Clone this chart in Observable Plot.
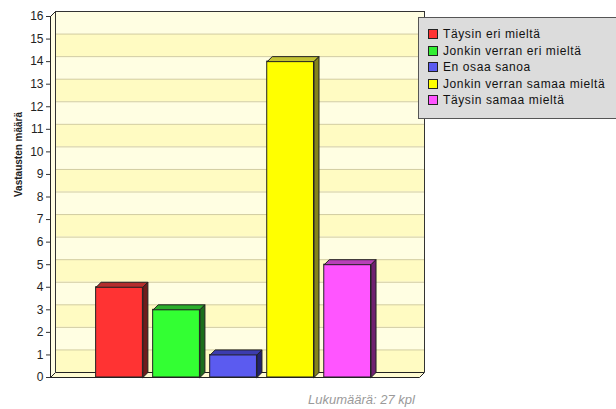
<!DOCTYPE html>
<html>
<head>
<meta charset="utf-8">
<script src="https://cdn.jsdelivr.net/npm/d3@7"></script>
<script src="https://cdn.jsdelivr.net/npm/@observablehq/plot@0.6"></script>
<style>
  html, body { margin: 0; padding: 0; background: #fff; }
  #wrap { position: relative; width: 616px; height: 409px; overflow: hidden; font-family: "Liberation Sans", Arial, sans-serif; }
  #legend { position: absolute; left: 418px; top: 17px; width: 210px; height: 102px; background: #dcdcdc; border-top: 1px solid #555; border-left: 1px solid #555; border-bottom: 1px solid #555; box-sizing: border-box; }
  .item { position: absolute; left: 9px; font-size: 12px; color: #111; line-height: 13px; white-space: nowrap; letter-spacing: 0.6px; }
  .sw { display: inline-block; width: 8px; height: 8px; border: 1px solid #222; margin-right: 5px; vertical-align: -1px; }
  #caption { position: absolute; left: 308px; top: 392px; font-size: 13px; font-style: italic; color: #9a9a9a; }
</style>
</head>
<body>
<div id="wrap">
  <div id="chart"></div>
  <div id="legend"></div>
  <div id="caption">Lukumäärä: 27 kpl</div>
</div>
<script>
const categories = ["Täysin eri mieltä", "Jonkin verran eri mieltä", "En osaa sanoa", "Jonkin verran samaa mieltä", "Täysin samaa mieltä"];
const values = [4, 3, 1, 14, 5];
const faceColors = ["#ff3333", "#33ff33", "#5b5bf0", "#ffff00", "#ff55ff"];
const topColors = ["#b42e2e", "#2aae2a", "#3c3cae", "#c2c232", "#b840b8"];
const sideColors = ["#6e1c1c", "#1c6e1c", "#22226e", "#84841c", "#702070"];
const legendColors = ["#ff3333", "#33ee33", "#5b5bf0", "#ffff00", "#ff55ff"];
const yTicks = d3.range(0, 17);
const yLabel = "Vastausten määrä";

const W = 616, H = 385, mL = 50, mR = 197, mT = 16, mB = 8;
const xDomain = [-0.21, 6.26];
const yDomain = [0, 16];
const DEPTH = 5; // px
const dX = DEPTH * (xDomain[1] - xDomain[0]) / (W - mL - mR);
const dY = DEPTH * (yDomain[1] - yDomain[0]) / (H - mT - mB);
const half = 0.41;

const bands = d3.range(0, 16).map(i => ({y1: i, y2: i + 1, fill: i % 2 === 0 ? "#fffbc2" : "#fffee2"}));

const polys = [];
[[xDomain[0], 0], [xDomain[1], 0], [xDomain[1] + dX, dY], [xDomain[0] + dX, dY], [xDomain[0], 0]]
  .forEach(([x, y]) => polys.push({id: "floor", x, y, fill: "#fffbd2"}));
[[xDomain[0], 0], [xDomain[0], 16], [xDomain[0] + dX, 16 + dY], [xDomain[0] + dX, dY], [xDomain[0], 0]]
  .forEach(([x, y]) => polys.push({id: "lwall", x, y, fill: "#fffde2"}));

const bars = categories.map((c, i) => ({c, i, v: values[i], x1: i + 1 - half, x2: i + 1 + half}));
bars.forEach(b => {
  [[b.x1, b.v], [b.x2, b.v], [b.x2 + dX, b.v + dY], [b.x1 + dX, b.v + dY], [b.x1, b.v]]
    .forEach(([x, y]) => polys.push({id: "top" + b.i, x, y, fill: topColors[b.i]}));
  [[b.x2, 0], [b.x2, b.v], [b.x2 + dX, b.v + dY], [b.x2 + dX, dY], [b.x2, 0]]
    .forEach(([x, y]) => polys.push({id: "side" + b.i, x, y, fill: sideColors[b.i]}));
});
const floorPolys = polys.filter(p => p.id === "floor" || p.id === "lwall");
const barPolys = polys.filter(p => p.id !== "floor" && p.id !== "lwall");

const chart = Plot.plot({
  width: W, height: H,
  marginLeft: mL, marginRight: mR, marginTop: mT, marginBottom: mB,
  style: {fontFamily: "'Liberation Sans', Arial, sans-serif", fontSize: "12px", color: "#222", background: "transparent", overflow: "visible"},
  x: {domain: xDomain, axis: null},
  y: {domain: yDomain, ticks: yTicks, tickSize: 4, tickPadding: 3, label: null},
  color: {type: "identity"},
  marks: [
    Plot.rect(bands, {x1: xDomain[0], x2: xDomain[1], y1: "y1", y2: "y2", fill: "fill", dx: DEPTH, dy: -DEPTH}),
    Plot.ruleY(yTicks.slice(1, 16), {x1: xDomain[0], x2: xDomain[1], stroke: "#d2cca2", strokeWidth: 1, dx: DEPTH, dy: -DEPTH}),
    Plot.line(floorPolys, {x: "x", y: "y", z: "id", fill: "fill", stroke: "#222", strokeWidth: 1, curve: "linear"}),
    Plot.ruleX([xDomain[0]], {y1: 0, y2: 16, stroke: "#333", dx: DEPTH, dy: -DEPTH}),
    Plot.ruleX([xDomain[1]], {y1: 0, y2: 16, stroke: "#333", dx: DEPTH, dy: -DEPTH}),
    Plot.ruleY([16], {x1: xDomain[0], x2: xDomain[1], stroke: "#333", dx: DEPTH, dy: -DEPTH}),
    Plot.rect(bars, {x1: "x1", x2: "x2", y1: 0, y2: "v", fill: d => faceColors[d.i], stroke: "#222", strokeWidth: 1}),
    Plot.line(barPolys, {x: "x", y: "y", z: "id", fill: "fill", stroke: "#222", strokeWidth: 1}),
    Plot.ruleX([xDomain[0]], {y1: 0, y2: 16, stroke: "#222"}),
    Plot.axisY({ticks: yTicks, tickSize: 4, tickPadding: 3, stroke: "#333", fill: "#222", fontSize: 12, label: null}),
    Plot.text([yLabel], {frameAnchor: "left", dx: -32, rotate: -90, text: d => d, fontWeight: "bold", fontSize: 10, fill: "#222"})
  ]
});
document.getElementById("chart").appendChild(chart);

const legend = document.getElementById("legend");
categories.forEach((c, i) => {
  const d = document.createElement("div");
  d.className = "item";
  d.style.top = (10 + i * 16.5) + "px";
  d.innerHTML = `<span class="sw" style="background:${legendColors[i]}"></span>`;
  d.appendChild(document.createTextNode(c));
  legend.appendChild(d);
});
</script>
</body>
</html>
